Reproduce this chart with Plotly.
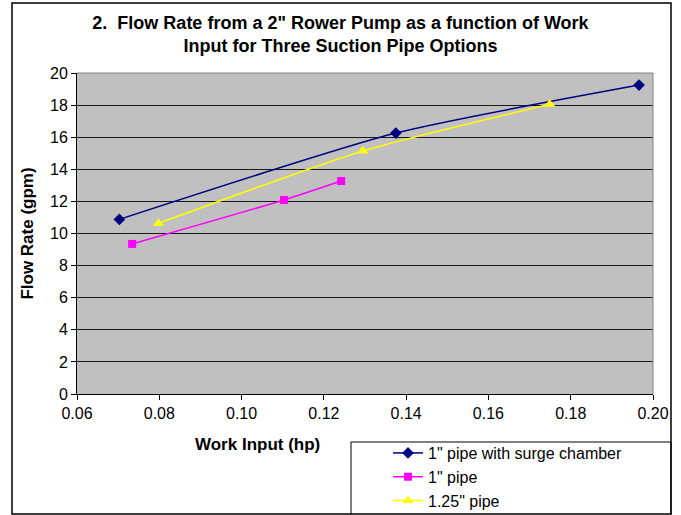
import plotly.graph_objects as go

# Data
surge_x = [0.0703, 0.1375, 0.1966]
surge_y = [10.88, 16.26, 19.25]

pipe1_x = [0.0734, 0.1103, 0.1242]
pipe1_y = [9.35, 12.09, 13.27]

pipe125_x = [0.0798, 0.1295, 0.1749]
pipe125_y = [10.63, 15.14, 18.05]

series_names = ['1" pipe with surge chamber', '1" pipe', '1.25" pipe']

W, H = 681, 515
L, R, T, B = 77, 28, 73, 121
pw, ph = W - L - R, H - T - B

def px(xp):
    return (xp - L) / pw

def py(yp):
    return (H - B - yp) / ph

FONT = "Liberation Sans, Arial, sans-serif"

fig = go.Figure()
fig.add_trace(go.Scatter(x=surge_x, y=surge_y, name=series_names[0], mode="lines+markers",
                         line=dict(color="#000080", width=1.5, shape="spline", smoothing=0.6),
                         marker=dict(symbol="diamond", size=9, color="#000080")))
fig.add_trace(go.Scatter(x=pipe1_x, y=pipe1_y, name=series_names[1], mode="lines+markers",
                         line=dict(color="#FF00FF", width=1.5, shape="spline", smoothing=0.6),
                         marker=dict(symbol="square", size=8, color="#FF00FF")))
fig.add_trace(go.Scatter(x=pipe125_x, y=pipe125_y, name=series_names[2], mode="lines+markers",
                         line=dict(color="#FFFF00", width=1.5, shape="spline", smoothing=0.6),
                         marker=dict(symbol="triangle-up", size=10, color="#FFFF00")))

fig.update_layout(
    width=W, height=H,
    margin=dict(l=L, r=R, t=T, b=B, autoexpand=False),
    paper_bgcolor="white",
    plot_bgcolor="#C0C0C0",
    font=dict(family=FONT, size=16, color="black"),
    title=dict(text="<b>2.  Flow Rate from a 2\" Rower Pump as a function of Work<br>Input for Three Suction Pipe Options</b>",
               x=0.5, xref="container", xanchor="center", y=1 - 29 / H, yanchor="middle",
               font=dict(family=FONT, size=18, color="black")),
    xaxis=dict(range=[0.06, 0.20], dtick=0.02, tick0=0.06, tickformat=".2f",
               showgrid=False, zeroline=False, showline=True, linecolor="black", linewidth=1,
               ticks="outside", ticklen=5, tickcolor="black",
               tickfont=dict(size=16), mirror=False),
    yaxis=dict(range=[0, 20], dtick=2, showgrid=True, gridcolor="#1a1a1a", gridwidth=1,
               zeroline=False, showline=True, linecolor="black", linewidth=1,
               ticks="outside", ticklen=5, tickcolor="black",
               tickfont=dict(size=16),
               title=dict(text="<b>Flow Rate (gpm)</b>", font=dict(size=17), standoff=12)),
    legend=dict(x=px(388), y=py(436), xanchor="left", yanchor="top",
                bgcolor="rgba(0,0,0,0)", borderwidth=0,
                font=dict(family=FONT, size=16, color="black"), tracegroupgap=0),
    showlegend=True,
)

# x-axis title, placed left of centre as in the reference
fig.add_annotation(text="<b>Work Input (hp)</b>", xref="paper", yref="paper",
                   x=px(257), y=py(445), xanchor="center", yanchor="middle",
                   showarrow=False, font=dict(family=FONT, size=17, color="black"))

shapes = [
    # plot area top/right gray border
    dict(type="line", xref="paper", yref="paper", x0=0, x1=1, y0=1, y1=1,
         line=dict(color="#808080", width=1)),
    dict(type="line", xref="paper", yref="paper", x0=1, x1=1, y0=0, y1=1,
         line=dict(color="#808080", width=1)),
    # outer chart border
    dict(type="rect", xref="paper", yref="paper", x0=px(12), x1=px(671), y0=py(514), y1=py(3),
         line=dict(color="black", width=1.5), fillcolor="rgba(0,0,0,0)", layer="below"),
    # legend box
    dict(type="rect", xref="paper", yref="paper", x0=px(351), x1=px(671), y0=py(520), y1=py(442),
         line=dict(color="black", width=1), fillcolor="rgba(0,0,0,0)"),
]
fig.update_layout(shapes=shapes)

fig.write_html("out.html", config={"displayModeBar": False},
               post_script="document.body.style.margin='0';")
